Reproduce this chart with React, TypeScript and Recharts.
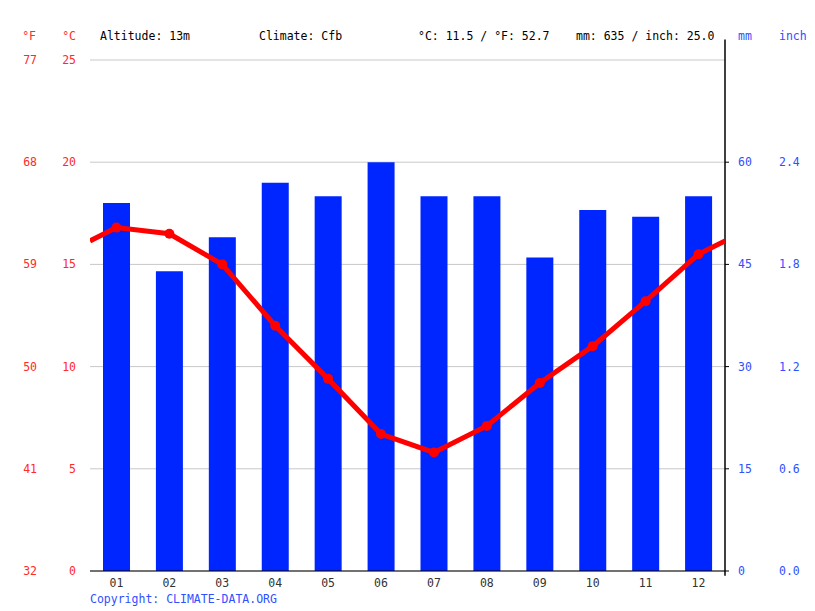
import React from "react";
import {
  ComposedChart,
  Bar,
  Line,
  XAxis,
  YAxis,
  CartesianGrid,
  ReferenceLine,
} from "recharts";

const months = ["01", "02", "03", "04", "05", "06", "07", "08", "09", "10", "11", "12"];
const precipMm = [54, 44, 49, 57, 55, 60, 55, 55, 46, 53, 52, 55];
const tempC = [16.8, 16.5, 15.0, 12.0, 9.4, 6.7, 5.8, 7.1, 9.2, 11.0, 13.2, 15.5];

const cTicks = [0, 5, 10, 15, 20, 25];
const fTicks = [32, 41, 50, 59, 68, 77];
const mmTicks = [0, 15, 30, 45, 60];
const inchTicks = [0, 0.6, 1.2, 1.8, 2.4];

const FONT = "'DejaVu Sans Mono', monospace";
const RED = "#ff0000";
const RED_TEXT = "#ff2a2a";
const BLUE = "#0026ff";
const BLUE_TEXT = "#2f50ff";

const edgeTemp = (tempC[0] + tempC[11]) / 2;

const barData = months.map((m, i) => ({ x: i + 1, label: m, precip: precipMm[i], temp: tempC[i], edge: false }));
const lineData = [
  { x: 0.5, temp: edgeTemp, edge: true },
  ...barData,
  { x: 12.5, temp: edgeTemp, edge: true },
];

const monthTicks = months.map((_, i) => i + 1);
const boundaryTicks = [0, ...monthTicks].map((v) => v + 0.5);

const XTick = (props: any) => {
  const { x, y, payload } = props;
  return (
    <text x={x} y={y + 15} textAnchor="middle" fontFamily={FONT} fontSize={11.5} fill="#333">
      {months[payload.value - 1]}
    </text>
  );
};

const makeYTick = (color: string, anchor: "start" | "end", fmt: (v: number) => string) => (props: any) => {
  const { x, y, payload } = props;
  return (
    <text x={x} y={y} dy="0.355em" textAnchor={anchor} fontFamily={FONT} fontSize={11.5} fill={color}>
      {fmt(payload.value)}
    </text>
  );
};

const Dot = (props: any) => {
  const { cx, cy, payload, index } = props;
  if (payload.edge) return <g key={`d${index}`} />;
  return <circle key={`d${index}`} cx={cx} cy={cy} r={5} fill={RED} />;
};

export default function App() {
  return (
    <div style={{ position: "absolute", left: 0, top: 0, width: 815, height: 611, background: "#fff" }}>
      <ComposedChart
        width={815}
        height={611}
        data={barData}
        margin={{ top: 60, right: 0, bottom: 38, left: 0 }}
      >
        <CartesianGrid vertical={false} stroke="#c8c8c8" yAxisId="c" xAxisId="b" />
        <XAxis
          xAxisId="a"
          type="number"
          dataKey="x"
          domain={[0.5, 12.5]}
          ticks={boundaryTicks}
          interval={0}
          tick={false}
          tickLine={{ stroke: "#000" }}
          tickSize={4}
          axisLine={{ stroke: "#000" }}
          height={1}
          allowDataOverflow
        />
        <XAxis
          xAxisId="b"
          dataKey="x"
          type="number"
          domain={[0.5, 12.5]}
          ticks={monthTicks}
          interval={0}
          tickLine={false}
          tickSize={0}
          tickMargin={0}
          axisLine={false}
          tick={<XTick />}
          height={1}
          allowDataOverflow
        />
        <YAxis
          yAxisId="c"
          orientation="left"
          domain={[0, 25]}
          ticks={cTicks}
          width={45}
          axisLine={false}
          tickLine={false}
          tickSize={0}
          tickMargin={14}
          allowDataOverflow
          tick={makeYTick(RED_TEXT, "end", (v) => String(v))}
        />
        <YAxis
          yAxisId="f"
          orientation="left"
          domain={[32, 77]}
          ticks={fTicks}
          width={45}
          axisLine={false}
          tickLine={false}
          tickSize={0}
          tickMargin={8}
          allowDataOverflow
          tick={makeYTick(RED_TEXT, "end", (v) => String(v))}
        />
        <YAxis
          yAxisId="mm"
          orientation="right"
          domain={[0, 75]}
          ticks={mmTicks}
          width={45}
          axisLine={false}
          tickLine={{ stroke: "#000" }}
          tickSize={4}
          tickMargin={9}
          allowDataOverflow
          tick={makeYTick(BLUE_TEXT, "start", (v) => String(v))}
        />
        <YAxis
          yAxisId="zin"
          orientation="right"
          domain={[0, 3.0]}
          ticks={inchTicks}
          width={45}
          axisLine={false}
          tickLine={false}
          tickSize={0}
          tickMargin={9}
          allowDataOverflow
          tick={makeYTick(BLUE_TEXT, "start", (v) => v.toFixed(1))}
        />
        <ReferenceLine
          xAxisId="b"
          yAxisId="mm"
          segment={[
            { x: 12.5, y: -0.7 },
            { x: 12.5, y: 78 },
          ]}
          stroke="#000"
          strokeWidth={1.5}
          ifOverflow="visible"
        />
        <Bar xAxisId="b" yAxisId="mm" dataKey="precip" fill={BLUE} barSize={27} isAnimationActive={false} />
        <Line
          xAxisId="a"
          yAxisId="c"
          data={lineData}
          dataKey="temp"
          type="linear"
          stroke={RED}
          strokeWidth={5}
          dot={<Dot />}
          activeDot={false}
          isAnimationActive={false}
        />
      </ComposedChart>
      <svg
        width={815}
        height={611}
        style={{ position: "absolute", left: 0, top: 0, pointerEvents: "none" }}
        fontFamily={FONT}
        fontSize={11.5}
      >
        <text x={36} y={40} textAnchor="end" fill={RED_TEXT}>°F</text>
        <text x={76} y={40} textAnchor="end" fill={RED_TEXT}>°C</text>
        <text x={100} y={40} fill="#000">Altitude: 13m</text>
        <text x={259} y={40} fill="#000">Climate: Cfb</text>
        <text x={418} y={40} fill="#000">°C: 11.5 / °F: 52.7</text>
        <text x={576} y={40} fill="#000">mm: 635 / inch: 25.0</text>
        <text x={738} y={40} fill={BLUE_TEXT}>mm</text>
        <text x={779} y={40} fill={BLUE_TEXT}>inch</text>
        <text x={90} y={603} fill={BLUE_TEXT}>Copyright: CLIMATE-DATA.ORG</text>
      </svg>
    </div>
  );
}
